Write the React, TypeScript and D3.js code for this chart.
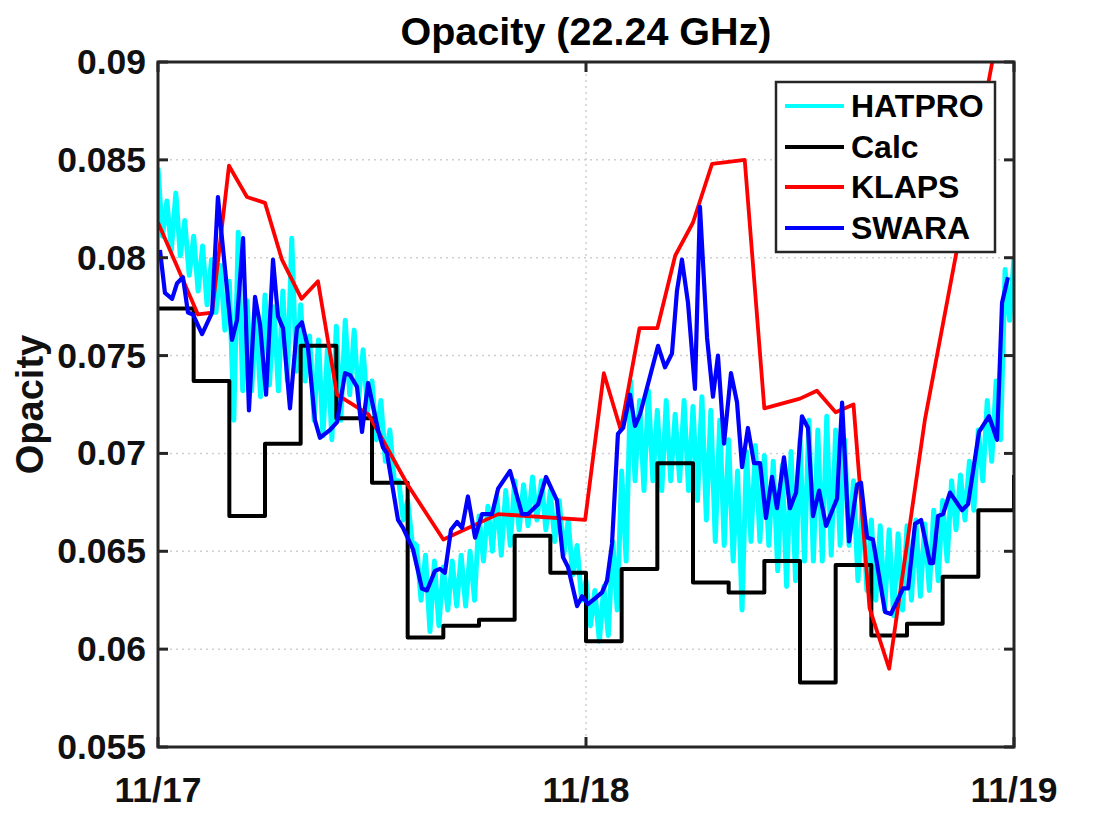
import React from 'react';
import * as d3 from 'd3';

// ---------- data ----------
const xTickHours = [0, 24, 48];
const xTickLabels = ['11/17', '11/18', '11/19'];
const yTicks = [0.055, 0.06, 0.065, 0.07, 0.075, 0.08, 0.085, 0.09];
const yTickLabels = ['0.055', '0.06', '0.065', '0.07', '0.075', '0.08', '0.085', '0.09'];

const seriesNames = ['HATPRO', 'Calc', 'KLAPS', 'SWARA'];
const seriesColors = ['#00FFFF', '#000000', '#FF0000', '#0000FF'];

// HATPRO: high readings at every half hour, low readings a quarter hour later
const hatproPeaks = [
  0.0846, 0.0829, 0.0833, 0.0819, 0.0811, 0.0806, 0.0799, 0.0796, 0.0788, 0.0813,
  0.0778, 0.0772, 0.0781, 0.0775, 0.0783, 0.0810, 0.0776, 0.0760, 0.0758, 0.0753,
  0.0765, 0.0768, 0.0763, 0.0753, 0.0737, 0.0727, 0.0712, 0.0686, 0.0676, 0.0653,
  0.0648, 0.0645, 0.0642, 0.0645, 0.0648, 0.0650, 0.0668, 0.0673, 0.0678, 0.0681,
  0.0686, 0.0684, 0.0688, 0.0686, 0.0681, 0.0676, 0.0666, 0.0653, 0.0635, 0.0630,
  0.0632, 0.0655, 0.0691, 0.0737, 0.0727, 0.0732, 0.0722, 0.0727, 0.0720, 0.0727,
  0.0724, 0.0729, 0.0722, 0.0717, 0.0707, 0.0691, 0.0701, 0.0704, 0.0699, 0.0696,
  0.0694, 0.0701, 0.0707, 0.0717, 0.0712, 0.0719, 0.0712, 0.0707, 0.0686, 0.0676,
  0.0666, 0.0663, 0.0661, 0.0659, 0.0663, 0.0666, 0.0664, 0.0671, 0.0676, 0.0686,
  0.0689, 0.0696, 0.0712, 0.0727, 0.0737, 0.0794, 0.0800,
];
const hatproTroughs = [
  0.0811, 0.0804, 0.0801, 0.0791, 0.0783, 0.0776, 0.0772, 0.0763, 0.0717, 0.0732,
  0.0732, 0.0729, 0.0735, 0.0732, 0.0737, 0.0742, 0.0737, 0.0717, 0.0709, 0.0707,
  0.0717, 0.0730, 0.0727, 0.0722, 0.0707, 0.0696, 0.0686, 0.0666, 0.0655, 0.0625,
  0.0609, 0.0612, 0.0620, 0.0622, 0.0622, 0.0625, 0.0645, 0.0650, 0.0648, 0.0653,
  0.0661, 0.0663, 0.0666, 0.0661, 0.0655, 0.0648, 0.0638, 0.0625, 0.0612, 0.0604,
  0.0607, 0.0620, 0.0645, 0.0686, 0.0681, 0.0686, 0.0681, 0.0686, 0.0686, 0.0681,
  0.0676, 0.0666, 0.0655, 0.0653, 0.0645, 0.0620, 0.0655, 0.0655, 0.0653, 0.0640,
  0.0632, 0.0635, 0.0645, 0.0645, 0.0645, 0.0648, 0.0653, 0.0653, 0.0635, 0.0630,
  0.0625, 0.0620, 0.0617, 0.0620, 0.0625, 0.0627, 0.0630, 0.0635, 0.0645, 0.0661,
  0.0666, 0.0671, 0.0686, 0.0696, 0.0707, 0.0768,
];

const calcHours = [0, 2, 4, 6, 8, 10, 12, 14, 16, 18, 20, 22, 24, 26, 28, 30, 32, 34, 36, 38, 40, 42, 44, 46, 48];
const calcValues = [
  0.0774, 0.0737, 0.0668, 0.0705, 0.0755, 0.0718, 0.0685, 0.0606, 0.0612, 0.0615,
  0.0658, 0.0639, 0.0604, 0.0641, 0.0695, 0.0634, 0.0629, 0.0645, 0.0583, 0.0643,
  0.0607, 0.0613, 0.0637, 0.0671, 0.0689,
];

const klapsHours = [
  0, 2.24, 3.03, 3.98, 4.99, 6.0, 6.95, 8.05, 8.97, 10.04, 11.8, 14.0, 16.0, 19.07,
  23.95, 25.0, 25.95, 27.0, 28.0, 29.0, 30.0, 31.07, 32.9, 34.0, 36.0, 36.95, 38.0,
  39.0, 39.9, 41.0, 43.0, 48.0,
];
const klapsValues = [
  0.0818, 0.0771, 0.0772, 0.0847, 0.0831, 0.0828, 0.0799, 0.0779, 0.0788, 0.0730,
  0.0720, 0.0684, 0.0656, 0.0669, 0.0666, 0.0741, 0.0712, 0.0764, 0.0764, 0.0801,
  0.0818, 0.0848, 0.0850, 0.0723, 0.0728, 0.0732, 0.0721, 0.0725, 0.0621, 0.0590,
  0.0717, 0.0959,
];

const swaraHours = [
  0.11, 0.39, 0.79, 1.07, 1.40, 1.68, 1.96, 2.47, 3.03, 3.36, 4.15, 4.43, 4.77, 5.10,
  5.44, 5.72, 6.06, 6.45, 6.73, 7.01, 7.40, 7.79, 8.07, 8.41, 8.80, 9.08, 9.65, 10.04,
  10.49, 10.77, 11.16, 11.44, 11.78, 12.34, 12.62, 12.84, 13.46, 13.74, 14.30, 14.80,
  15.08, 15.53, 15.81, 16.09, 16.43, 16.77, 17.05, 17.38, 17.78, 18.17, 18.73, 19.07,
  19.74, 20.41, 20.75, 21.31, 21.76, 22.37, 22.71, 22.99, 23.50, 23.78, 24.11, 24.51,
  24.90, 25.18, 25.46, 25.79, 26.08, 26.47, 26.75, 27.03, 28.04, 28.43, 28.82, 29.10,
  29.38, 29.72, 30.11, 30.39, 30.79, 31.12, 31.40, 31.74, 32.13, 32.47, 32.75, 33.08,
  33.42, 33.76, 34.09, 34.43, 34.71, 35.10, 35.44, 35.78, 36.11, 36.45, 36.73, 37.07,
  37.46, 38.08, 38.36, 38.75, 39.20, 39.42, 39.76, 40.09, 40.77, 41.10, 41.78, 42.06,
  42.45, 42.79, 43.29, 43.46, 43.74, 44.02, 44.41, 45.08, 45.42, 46.04, 46.60, 47.05,
  47.33, 47.66,
];
const swaraValues = [
  0.0804, 0.0782, 0.0779, 0.0787, 0.0790, 0.0772, 0.0771, 0.0761, 0.0772, 0.0831,
  0.0758, 0.0768, 0.0810, 0.0722, 0.0780, 0.0766, 0.0730, 0.0799, 0.0770, 0.0764,
  0.0723, 0.0764, 0.0767, 0.0754, 0.0717, 0.0708, 0.0712, 0.0716, 0.0741, 0.0740,
  0.0734, 0.0711, 0.0736, 0.0712, 0.0703, 0.0700, 0.0666, 0.0662, 0.0651, 0.0631,
  0.0630, 0.0640, 0.0641, 0.0639, 0.0661, 0.0665, 0.0662, 0.0678, 0.0657, 0.0669,
  0.0669, 0.0682, 0.0691, 0.0669, 0.0669, 0.0674, 0.0688, 0.0676, 0.0647, 0.0642,
  0.0622, 0.0627, 0.0623, 0.0626, 0.0629, 0.0635, 0.0654, 0.0710, 0.0713, 0.0730,
  0.0714, 0.0720, 0.0755, 0.0744, 0.0751, 0.0783, 0.0799, 0.0777, 0.0733, 0.0826,
  0.0759, 0.0729, 0.0750, 0.0705, 0.0741, 0.0726, 0.0693, 0.0713, 0.0695, 0.0695,
  0.0667, 0.0688, 0.0672, 0.0698, 0.0672, 0.0680, 0.0719, 0.0713, 0.0668, 0.0681,
  0.0663, 0.0677, 0.0726, 0.0655, 0.0684, 0.0685, 0.0657, 0.0656, 0.0619, 0.0618,
  0.0631, 0.0631, 0.0664, 0.0666, 0.0644, 0.0644, 0.0668, 0.0669, 0.0680, 0.0671,
  0.0674, 0.0711, 0.0719, 0.0707, 0.0777, 0.0790,
];

// ---------- layout ----------
const W = 1120;
const H = 840;
const PL = 158;
const PR = 1014;
const PT = 62;
const PB = 747;
const FONT = '"Liberation Sans", Arial, Helvetica, sans-serif';
const AX = '#262626';

type Pt = { t: number; v: number };

export default function App() {
  const x = d3.scaleLinear().domain([0, 48]).range([PL, PR]);
  const y = d3.scaleLinear().domain([0.055, 0.09]).range([PB, PT]);

  const hatpro: Pt[] = [];
  hatproPeaks.forEach((v, i) => {
    hatpro.push({ t: i * 0.5, v });
    if (i < hatproTroughs.length) hatpro.push({ t: i * 0.5 + 0.25, v: hatproTroughs[i] });
  });
  const calc: Pt[] = calcHours.map((t, i) => ({ t, v: calcValues[i] }));
  const klaps: Pt[] = klapsHours.map((t, i) => ({ t, v: klapsValues[i] }));
  const swara: Pt[] = swaraHours.map((t, i) => ({ t, v: swaraValues[i] }));

  const line = d3.line<Pt>().x((d) => x(d.t)).y((d) => y(d.v));
  const stepLine = d3.line<Pt>().x((d) => x(d.t)).y((d) => y(d.v)).curve(d3.curveStepAfter);

  const tickLen = 10;
  const legX = 776;
  const legY = 82;
  const legW = 219;
  const legH = 170;
  const legRows = [106, 147, 187, 228];

  return (
    <svg
      width={W}
      height={H}
      style={{ position: 'absolute', left: 0, top: 0, background: '#fff' }}
      fontFamily={FONT}
    >
      <rect x={0} y={0} width={W} height={H} fill="#fff" />
      <defs>
        <clipPath id="plotClip">
          <rect x={PL} y={PT} width={PR - PL} height={PB - PT} />
        </clipPath>
      </defs>

      {/* grid */}
      <g stroke="#cfcfcf" strokeWidth={1.5} strokeDasharray="2,4">
        {yTicks.slice(1, -1).map((t) => (
          <line key={'gy' + t} x1={PL} x2={PR} y1={y(t)} y2={y(t)} />
        ))}
        {xTickHours.slice(1, -1).map((t) => (
          <line key={'gx' + t} x1={x(t)} x2={x(t)} y1={PT} y2={PB} />
        ))}
      </g>

      {/* data */}
      <g clipPath="url(#plotClip)" fill="none" strokeLinejoin="round">
        <path d={line(hatpro) || ''} stroke={seriesColors[0]} strokeWidth={5} />
        <path d={stepLine(calc) || ''} stroke={seriesColors[1]} strokeWidth={4} />
        <path d={line(klaps) || ''} stroke={seriesColors[2]} strokeWidth={3.8} />
        <path d={line(swara) || ''} stroke={seriesColors[3]} strokeWidth={4.2} />
      </g>

      {/* axes box and ticks */}
      <rect x={PL} y={PT} width={PR - PL} height={PB - PT} fill="none" stroke={AX} strokeWidth={3} />
      <g stroke={AX} strokeWidth={3}>
        {yTicks.map((t) => (
          <g key={'ty' + t}>
            <line x1={PL} x2={PL + tickLen} y1={y(t)} y2={y(t)} />
            <line x1={PR} x2={PR - tickLen} y1={y(t)} y2={y(t)} />
          </g>
        ))}
        {xTickHours.map((t) => (
          <g key={'tx' + t}>
            <line x1={x(t)} x2={x(t)} y1={PB} y2={PB - tickLen} />
            <line x1={x(t)} x2={x(t)} y1={PT} y2={PT + tickLen} />
          </g>
        ))}
      </g>

      {/* tick labels */}
      <g fontSize={35.5} fontWeight="bold" fill="#111">
        {yTicks.map((t, i) => (
          <text key={'ly' + t} x={PL - 12} y={y(t)} textAnchor="end" dominantBaseline="central">
            {yTickLabels[i]}
          </text>
        ))}
        {xTickHours.map((t, i) => (
          <text key={'lx' + t} x={x(t)} y={PB + 55} textAnchor="middle">
            {xTickLabels[i]}
          </text>
        ))}
      </g>

      {/* axis label and title */}
      <text
        transform={`translate(43, ${(PT + PB) / 2}) rotate(-90)`}
        textAnchor="middle"
        fontSize={38}
        fontWeight="bold"
        fill="#111"
      >
        Opacity
      </text>
      <text x={(PL + PR) / 2} y={45} textAnchor="middle" fontSize={39.5} fontWeight="bold" fill="#000">
        Opacity (22.24 GHz)
      </text>

      {/* legend */}
      <rect x={legX} y={legY} width={legW} height={legH} fill="#fff" stroke={AX} strokeWidth={2.5} />
      {seriesNames.map((n, i) => (
        <g key={n}>
          <line x1={785} x2={844} y1={legRows[i]} y2={legRows[i]} stroke={seriesColors[i]} strokeWidth={4} />
          <text x={851} y={legRows[i]} dominantBaseline="central" fontSize={32} fontWeight="bold" fill="#000">
            {n}
          </text>
        </g>
      ))}
    </svg>
  );
}
